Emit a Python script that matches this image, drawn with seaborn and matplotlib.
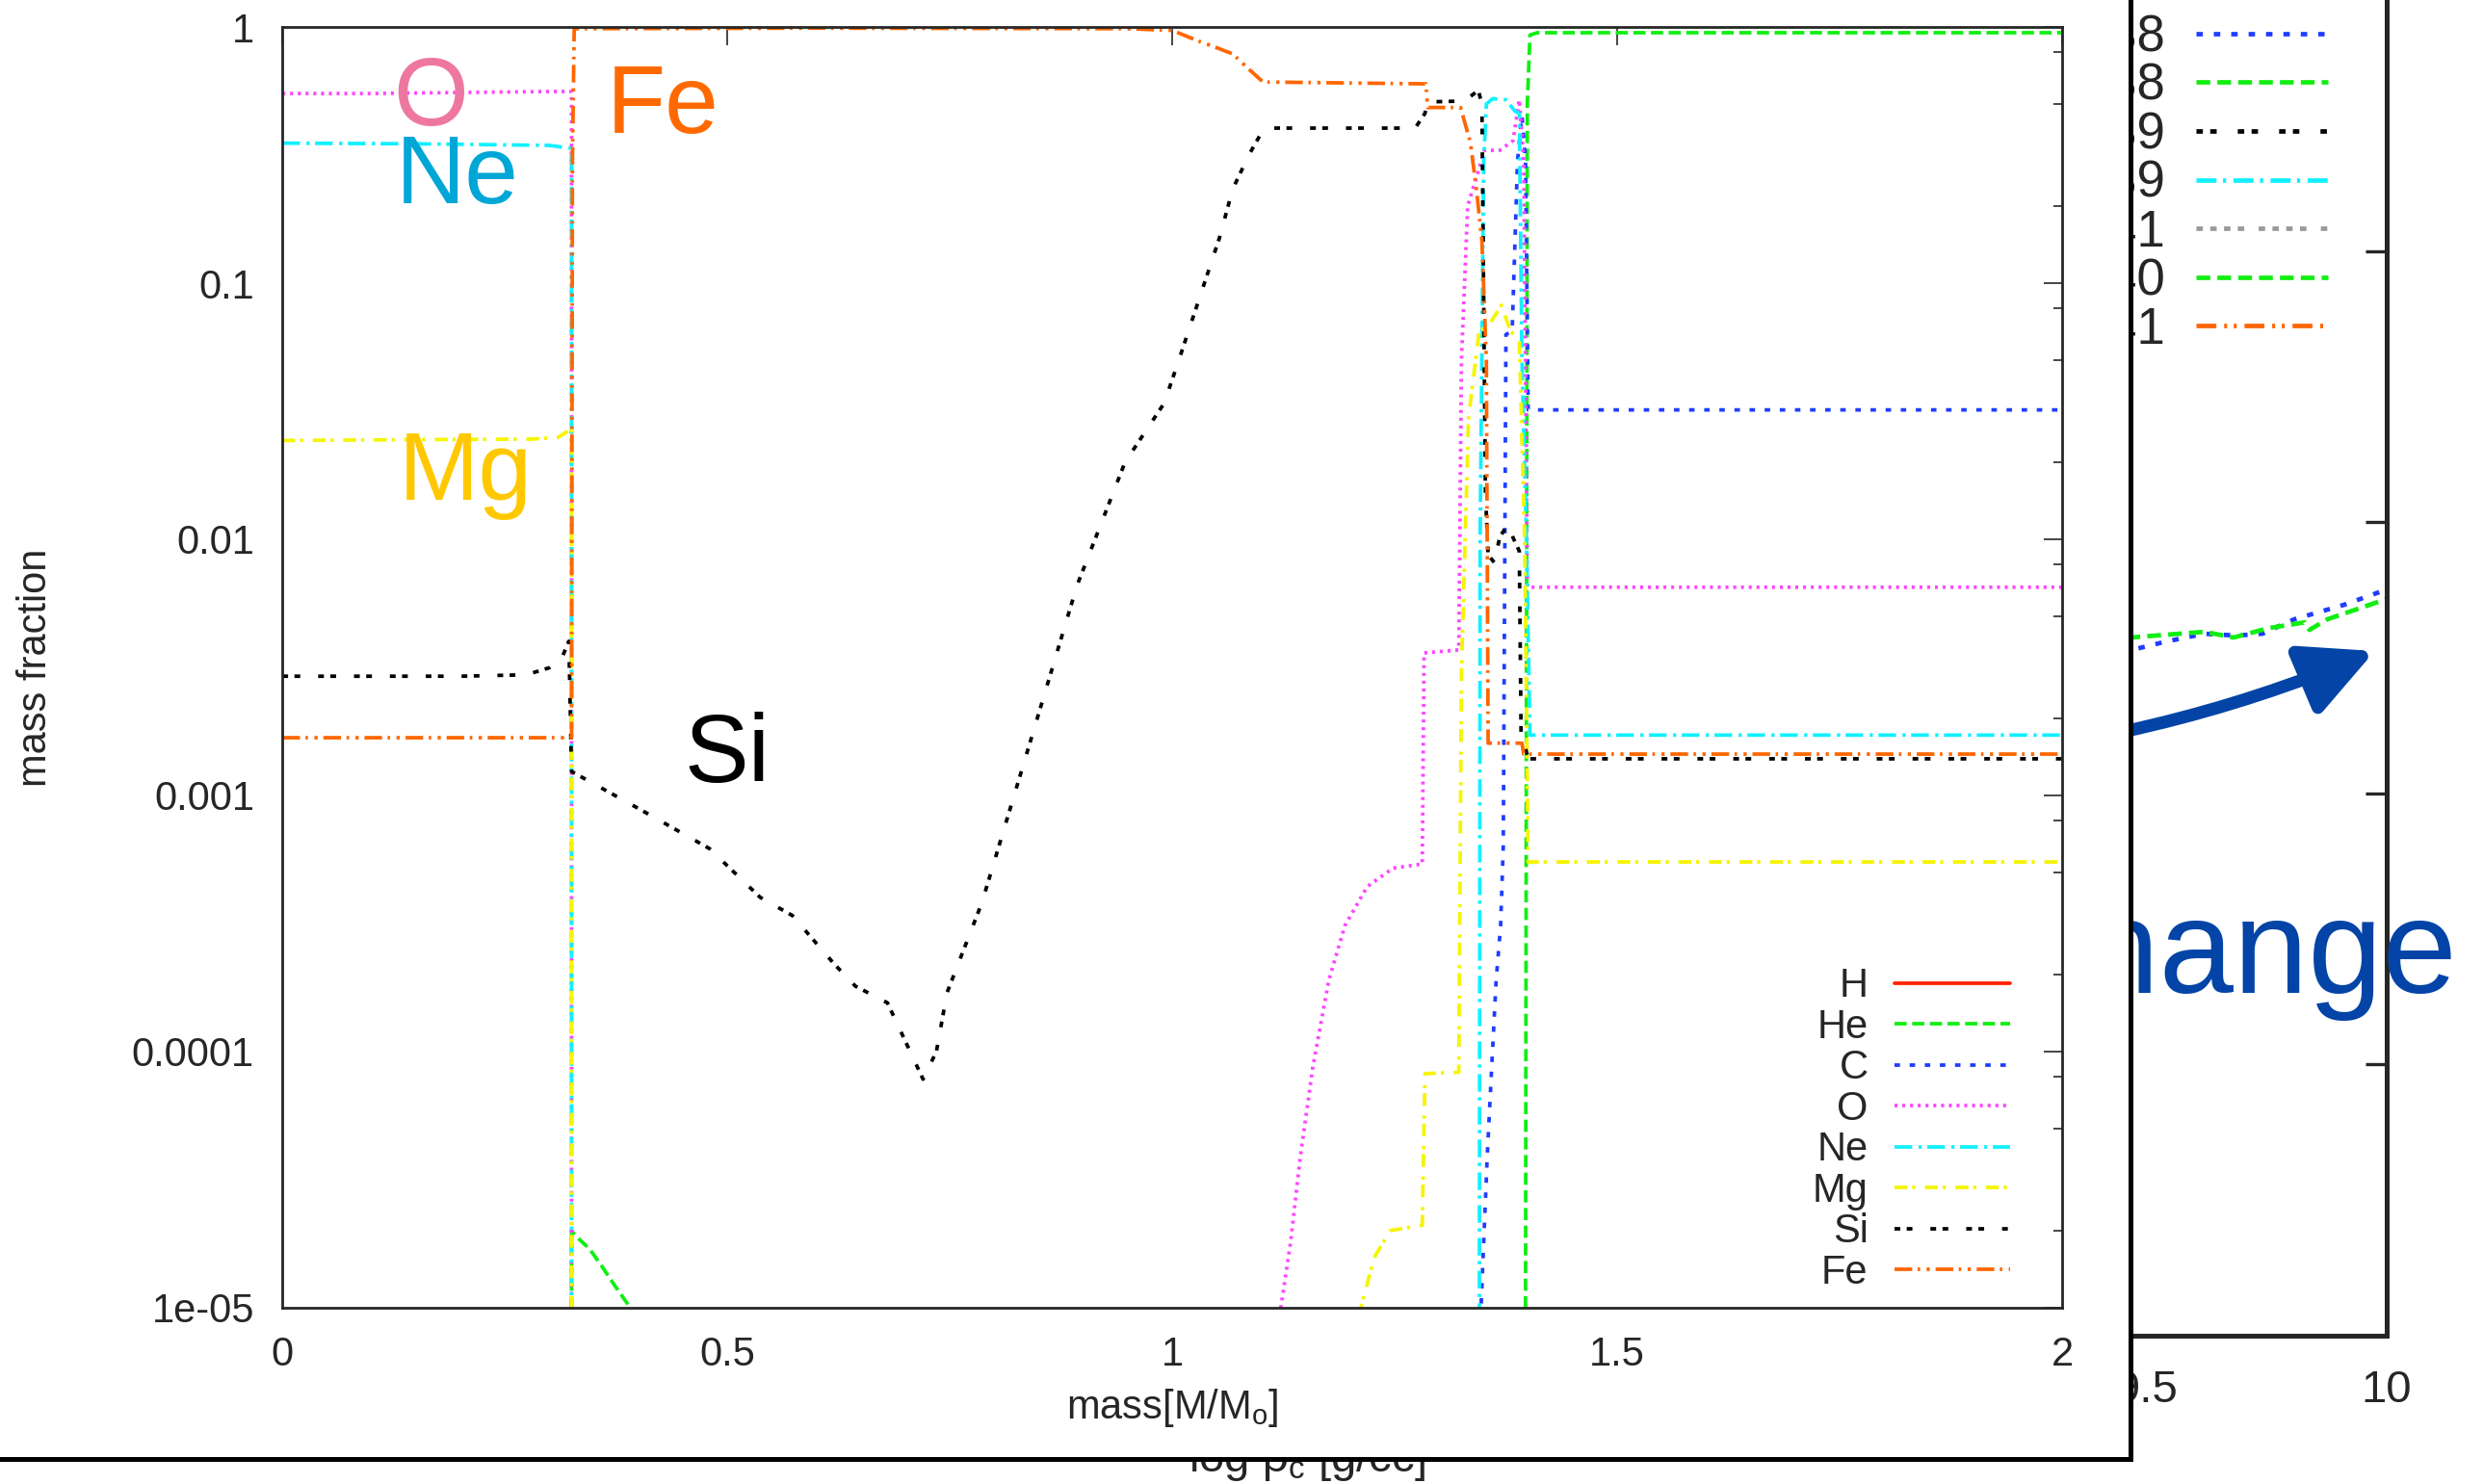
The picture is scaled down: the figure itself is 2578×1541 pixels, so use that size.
import matplotlib
matplotlib.use('Agg')
import matplotlib.pyplot as plt
from matplotlib.lines import Line2D
from matplotlib.patches import Rectangle
from matplotlib.ticker import LogLocator, NullFormatter, NullLocator
import seaborn as sns

sns.set_style("white")
plt.rcParams['font.family'] = ['Liberation Sans', 'DejaVu Sans']
plt.rcParams['mathtext.fontset'] = 'custom'
plt.rcParams['mathtext.rm'] = 'Liberation Sans'
plt.rcParams['mathtext.it'] = 'Liberation Sans:italic'
plt.rcParams['lines.scale_dashes'] = False
plt.rcParams['axes.unicode_minus'] = False

# ---- front panel: mass fraction vs. mass coordinate (values < 1e-5 are off scale) ----
h_m = [0.0, 2.0]
h_x = [1e-9, 1e-9]

he_m = [0.0, 0.325, 0.325, 0.33, 0.345, 0.358, 0.375, 0.391, 0.40,
        1.396, 1.397, 1.399, 1.402, 1.41, 2.0]
he_x = [1e-9, 1e-9, 2.0e-5, 1.9e-5, 1.7e-5, 1.47e-5, 1.2e-5, 1.0e-5, 8e-6,
        1e-9, 1e-5, 0.5, 0.93, 0.95, 0.95]

c_m = [0.0, 1.345, 1.347, 1.354, 1.359, 1.364, 1.369, 1.372, 1.375, 1.382,
       1.388, 1.393, 1.397, 1.400, 2.0]
c_x = [1e-9, 1e-9, 1e-5, 3.9e-5, 8.7e-5, 1.9e-4, 3.1e-4, 6.3e-4, 0.063, 0.065,
       0.30, 0.45, 0.30, 0.032, 0.032]

o_m = [0.0, 0.10, 0.20, 0.30, 0.325, 0.325, 1.115, 1.122, 1.133, 1.144, 1.158,
       1.176, 1.194, 1.219, 1.248, 1.281, 1.283, 1.322, 1.325, 1.332, 1.351,
       1.368, 1.383, 1.390, 1.395, 1.399, 2.0]
o_x = [0.55, 0.55, 0.555, 0.56, 0.56, 1e-9, 5e-6, 1.0e-5, 1.8e-5, 3.9e-5, 8.7e-5,
       1.9e-4, 3.1e-4, 4.4e-4, 5.2e-4, 5.4e-4, 3.6e-3, 3.7e-3, 0.05, 0.2, 0.33,
       0.33, 0.36, 0.52, 0.3, 0.0065, 0.0065]

ne_m = [0.0, 0.15, 0.30, 0.325, 0.325, 1.344, 1.346, 1.350, 1.353, 1.36, 1.375,
        1.385, 1.390, 1.393, 1.398, 1.402, 2.0]
ne_x = [0.352, 0.35, 0.345, 0.336, 1e-9, 1e-9, 0.01, 0.3, 0.50, 0.525, 0.52,
        0.47, 0.46, 0.05, 0.01, 1.72e-3, 1.72e-3]

mg_m = [0.0, 0.15, 0.28, 0.31, 0.325, 0.325, 1.20, 1.212, 1.227, 1.245, 1.281,
        1.284, 1.322, 1.325, 1.333, 1.345, 1.355, 1.370, 1.380, 1.390, 1.396,
        1.400, 2.0]
mg_x = [0.0243, 0.0245, 0.0246, 0.025, 0.027, 1e-9, 3e-6, 1.0e-5, 1.57e-5, 2.0e-5,
        2.1e-5, 8.2e-5, 8.3e-5, 0.003, 0.03, 0.065, 0.068, 0.082, 0.065, 0.06,
        0.01, 5.5e-4, 5.5e-4]

si_m = [0.0, 0.20, 0.26, 0.28, 0.30, 0.315, 0.322, 0.325, 0.40, 0.48, 0.537,
        0.573, 0.62, 0.644, 0.68, 0.72, 0.735, 0.747, 0.786, 0.84, 0.893, 0.947,
        0.991, 1.009, 1.053, 1.068, 1.086, 1.100, 1.111, 1.273, 1.284, 1.287,
        1.328, 1.344, 1.348, 1.352, 1.355, 1.362, 1.368, 1.377, 1.381, 1.390,
        1.392, 1.400, 2.0]
si_x = [2.92e-3, 2.92e-3, 2.95e-3, 3.0e-3, 3.15e-3, 3.5e-3, 4.0e-3, 1.24e-3,
        8.9e-4, 6.2e-4, 4.0e-4, 3.4e-4, 2.2e-4, 1.8e-4, 1.55e-4, 7.8e-5, 1.0e-4,
        1.7e-4, 3.8e-4, 1.6e-3, 6.6e-3, 0.020, 0.034, 0.052, 0.15, 0.233, 0.316,
        0.385, 0.403, 0.403, 0.46, 0.51, 0.514, 0.565, 0.5, 0.015, 0.0087, 0.0081,
        0.0102, 0.0114, 0.0105, 0.009, 1.77e-3, 1.39e-3, 1.39e-3]

fe_m = [0.0, 0.325, 0.326, 0.328, 0.60, 0.95, 1.0, 1.03, 1.05, 1.068, 1.085,
        1.102, 1.285, 1.287, 1.324, 1.335, 1.342, 1.348, 1.353, 1.355, 1.393,
        1.395, 2.0]
fe_x = [1.68e-3, 1.68e-3, 0.3, 0.985, 0.99, 0.985, 0.97, 0.88, 0.83, 0.785, 0.69,
        0.61, 0.60, 0.485, 0.485, 0.355, 0.23, 0.146, 0.05, 1.6e-3, 1.6e-3,
        1.45e-3, 1.45e-3]

elements = ['H', 'He', 'C', 'O', 'Ne', 'Mg', 'Si', 'Fe']
masses = [h_m, he_m, c_m, o_m, ne_m, mg_m, si_m, fe_m]
fractions = [h_x, he_x, c_x, o_x, ne_x, mg_x, si_x, fe_x]
colors = ['#ff2200', '#11ee11', '#1f3dff', '#ff44ff', '#11f0ff', '#f5f500', '#000000', '#ff6600']
dashes = [None, (9.1, 4.1), (4.1, 7.2), (2.2, 3.6), (13.2, 4.8, 2.4, 4.1),
          (9.6, 3.6, 2.4, 7.2), (4.3, 4.8, 4.3, 13.4), (13.2, 4.1, 1.9, 4.8, 2.4, 4.3)]

# element labels written inside the panel
tag_names = ['O', 'Ne', 'Fe', 'Mg', 'Si']
tag_m = [0.167, 0.196, 0.427, 0.206, 0.50]
tag_x = [0.414, 0.206, 0.385, 0.0142, 0.00113]
tag_colors = ['#ee77a2', '#00a6d6', '#ff6a00', '#ffc800', '#000000']

x_ticks = [0, 0.5, 1, 1.5, 2]
x_labels = ['0', '0.5', '1', '1.5', '2']
y_ticks = [1, 0.1, 0.01, 0.001, 1e-4, 1e-5]
y_labels = ['1', '0.1', '0.01', '0.001', '0.0001', '1e-05']

# ---- background chart, mostly hidden behind the panel ----
bg_rho_a = [9.2, 9.35, 9.466, 9.540, 9.620, 9.687, 9.741, 9.807, 9.910, 10.0]
bg_val_a = [2.42, 2.48, 2.528, 2.560, 2.589, 2.582, 2.589, 2.642, 2.695, 2.752]
bg_rho_b = [9.2, 9.35, 9.466, 9.620, 9.681, 9.755, 9.829, 9.839, 9.876, 10.0]
bg_val_b = [2.50, 2.55, 2.575, 2.596, 2.575, 2.610, 2.631, 2.603, 2.642, 2.717]
bg_labels = ['1.38', '1.38', '1.39', '1.39', '1.41', '1.40', '1.41']
bg_colors = ['#1f3dff', '#11ee11', '#000000', '#11f0ff', '#999999', '#11ee11', '#ff6600']
bg_dashes = [(4.8, 8.2), (10.3, 5.3), (4.8, 5.5, 4.8, 15.8), (15.0, 4.8, 2.4, 5.5),
             (4.8, 5.5, 4.8, 5.5, 4.8, 5.5, 4.8, 10.8), (10.3, 5.3),
             (14.9, 5.8, 2.2, 5.0, 2.2, 5.8)]
bg_x_ticks = [5.5, 6, 6.5, 7, 7.5, 8, 8.5, 9, 9.5, 10]
bg_x_labels = ['', '', '', '', '', '', '', '', '9.5', '10']

fig = plt.figure(figsize=(25.78, 15.41), dpi=100)

ax_bg = fig.add_axes([0.0919, 0.0999, 0.8693, 0.9202], zorder=0)
sns.lineplot(x=bg_rho_a, y=bg_val_a, ax=ax_bg, color=bg_colors[0], lw=3.4,
             linestyle=(0, bg_dashes[0]), sort=False, estimator=None)
sns.lineplot(x=bg_rho_b, y=bg_val_b, ax=ax_bg, color=bg_colors[1], lw=3.4,
             linestyle=(0, bg_dashes[1]), sort=False, estimator=None)
ax_bg.set_xlim(5.5, 10)
ax_bg.set_ylim(0, 5.036)
ax_bg.set_xticks(bg_x_ticks, bg_x_labels)
ax_bg.set_yticks([0, 1, 2, 3, 4, 5])
ax_bg.tick_params(direction='in', length=16, width=2.4, labelsize=34, pad=25,
                  right=True, labelleft=False)
for sp in ax_bg.spines.values():
    sp.set_linewidth(3.6)
ax_bg.set_xlabel(r'log $\mathregular{\rho_c}$ [g/cc]', fontsize=34)
ax_bg.xaxis.set_label_coords(0.5, -0.074)
bg_handles = [Line2D([], [], color=c, lw=3.4, linestyle=(0, d))
              for c, d in zip(bg_colors, bg_dashes)]
ax_bg.legend(bg_handles, bg_labels, loc='upper right', bbox_to_anchor=(0.973, 0.968),
             fontsize=38, markerfirst=False, handlelength=2.6, handletextpad=0.62,
             labelspacing=0.01, borderpad=0, borderaxespad=0, frameon=False)
ax_bg.annotate('', xy=(9.975, 2.525), xytext=(9.04, 2.12),
               arrowprops=dict(arrowstyle='-|>,head_length=0.9,head_width=0.45',
                               mutation_scale=50, lw=9.4, color='#0344a6',
                               connectionstyle='arc3,rad=0.08', shrinkA=0, shrinkB=0))
fig.text(0.9895, 0.331, 'change', fontsize=100, color='#0344a6', ha='right',
         va='baseline', zorder=0.5)

# white panel pasted on top
panel = Rectangle((-0.01, 0.0169), 0.868, 1.0, transform=fig.transFigure,
                  facecolor='white', edgecolor='black', lw=3.6, zorder=1)
fig.add_artist(panel)

ax = fig.add_axes([0.1137, 0.1188, 0.7168, 0.8630], zorder=2)
ax.set_facecolor('white')
lines = []
for name, m, x, col, d in zip(elements, masses, fractions, colors, dashes):
    ls = '-' if d is None else (0, d)
    sns.lineplot(x=m, y=x, ax=ax, color=col, lw=2.7, linestyle=ls,
                 sort=False, estimator=None)
    line = ax.lines[-1]
    line.set_label(name)
    line.set_dash_capstyle('butt')
    lines.append(line)

ax.set_yscale('log')
ax.set_xlim(0, 2)
ax.set_ylim(1e-5, 1)
ax.set_xticks(x_ticks, x_labels)
ax.set_yticks(y_ticks, y_labels)
ax.xaxis.set_minor_locator(NullLocator())
ax.yaxis.set_minor_locator(LogLocator(base=10, subs=(2, 5, 8)))
ax.yaxis.set_minor_formatter(NullFormatter())
ax.tick_params(which='both', direction='in', top=True, right=True, width=1.2,
               labelsize=30)
ax.tick_params(which='major', length=14, pad=21)
ax.tick_params(which='minor', length=6.5)
for sp in ax.spines.values():
    sp.set_linewidth(2.0)

for t, mx, fx, tc in zip(tag_names, tag_m, tag_x, tag_colors):
    ax.text(mx, fx, t, fontsize=72, color=tc, ha='center', va='baseline')

ax.set_xlabel(r'mass[M/M$_\mathregular{o}$]', fontsize=30)
ax.xaxis.set_label_coords(0.5, -0.062)
ax.set_ylabel('mass fraction', fontsize=30)
ax.yaxis.set_label_coords(-0.128, 0.5)

ax.legend(handles=lines, loc='lower right', bbox_to_anchor=(0.971, 0.012),
          fontsize=30, markerfirst=False, handlelength=2.88, handletextpad=0.67,
          labelspacing=0.06, borderpad=0, borderaxespad=0, frameon=False)

fig.savefig('out.png', dpi=100)
